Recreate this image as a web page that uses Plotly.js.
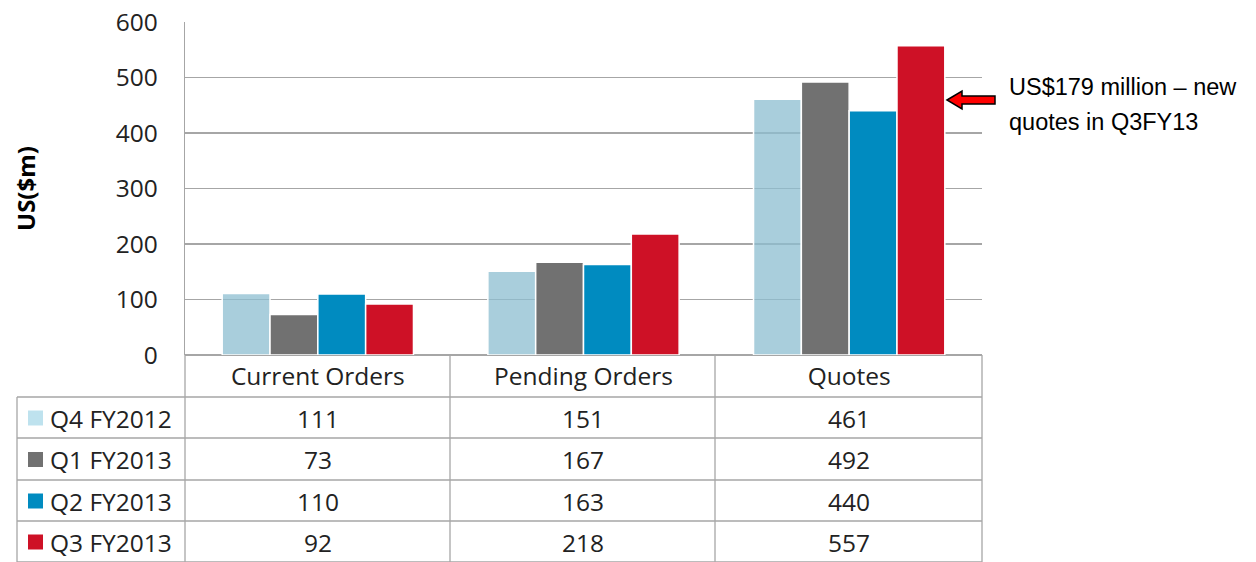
<!DOCTYPE html>
<html>
<head>
<meta charset="utf-8">
<script src="https://cdn.plot.ly/plotly-3.0.1.min.js"></script>
<style>html,body{margin:0;padding:0;background:#fff;}#chart{width:1256px;height:562px;}</style>
</head>
<body>
<div id="chart"></div>
<script>
// ---- data ----
const categories = ["Current Orders", "Pending Orders", "Quotes"];
const seriesNames = ["Q4 FY2012", "Q1 FY2013", "Q2 FY2013", "Q3 FY2013"];
const q4fy2012 = [111, 151, 461];
const q1fy2013 = [73, 167, 492];
const q2fy2013 = [110, 163, 440];
const q3fy2013 = [92, 218, 557];
const yTicks = [0, 100, 200, 300, 400, 500, 600];
const calloutLines = ["US$179 million \u2013 new", "quotes in Q3FY13"];

// ---- styles ----
const barColors = ["rgba(140,190,208,0.75)", "#717171", "#008BC0", "#CE1126"];
const swatchColors = ["#BEE2EE", "#717171", "#008BC0", "#CE1126"];
const W = 1256, H = 562;
const L = 185, R = 982, T = 22, B = 355;
const px = x => (x - L) / (R - L);
const py = y => (B - y) / (B - T);
const gridCol = "#A6A6A6";
const tableFont = {family: "Open Sans, sans-serif", size: 24.5, color: "#222"};

const allSeries = [q4fy2012, q1fy2013, q2fy2013, q3fy2013];
const traces = allSeries.map((vals, i) => ({
  type: "bar",
  name: seriesNames[i],
  x: categories,
  y: vals,
  marker: {color: barColors[i], line: {color: "#ffffff", width: 1.5}},
  hoverinfo: "x+y+name"
}));

const shapes = [];
const annotations = [];
const line = (x0, y0, x1, y1) => shapes.push({type: "line", xref: "paper", yref: "paper",
  x0: px(x0), y0: py(y0), x1: px(x1), y1: py(y1), line: {color: gridCol, width: 1.3}});

// table grid
const colEdges = [185, 450, 715, 982];
const rowEdges = [355, 397, 438, 480, 521, 562];
colEdges.forEach(c => line(c, 355, c, 562));
line(17, 397, 17, 562);
rowEdges.slice(1).forEach(r => line(17, r, 982, r));

// table rows: legend swatches, names, values
for (let i = 0; i < seriesNames.length; i++) {
  const yc = (rowEdges[i + 1] + rowEdges[i + 2]) / 2;
  shapes.push({type: "rect", xref: "paper", yref: "paper",
    x0: px(28), x1: px(43), y0: py(yc - 7), y1: py(yc + 8),
    fillcolor: swatchColors[i], line: {width: 0}});
  annotations.push({xref: "paper", yref: "paper", x: px(48), y: py(yc + 1),
    text: seriesNames[i], showarrow: false, xanchor: "left", yanchor: "middle", font: tableFont});
  for (let j = 0; j < categories.length; j++) {
    annotations.push({xref: "paper", yref: "paper",
      x: px((colEdges[j] + colEdges[j + 1]) / 2), y: py(yc + 1),
      text: String(allSeries[i][j]), showarrow: false, xanchor: "center", yanchor: "middle", font: tableFont});
  }
}

// callout arrow (block arrow)
const ax = [947, 962, 962, 995, 995, 962, 962];
const ay = [100, 91, 96, 96, 104, 104, 109];
let path = "";
ax.forEach((x, k) => { path += (k === 0 ? "M" : "L") + px(x) + "," + py(ay[k]) + " "; });
path += "Z";
shapes.push({type: "path", xref: "paper", yref: "paper", path: path,
  fillcolor: "#FF0000", line: {color: "#000", width: 1.5}});
const calloutFont = {family: "Liberation Sans, Arial, sans-serif", size: 23.5, color: "#000"};
annotations.push({xref: "paper", yref: "paper", x: px(1007), y: py(87),
  text: calloutLines[0], showarrow: false, xanchor: "left", yanchor: "middle", font: calloutFont});
annotations.push({xref: "paper", yref: "paper", x: px(1007), y: py(122),
  text: calloutLines[1], showarrow: false, xanchor: "left", yanchor: "middle", font: calloutFont});

// y title
annotations.push({xref: "paper", yref: "paper", x: px(25), y: py(189), textangle: -90,
  text: "<b>US($m)</b>", showarrow: false, xanchor: "center", yanchor: "middle",
  font: {family: "Open Sans, sans-serif", size: 24, color: "#000"}});

const layout = {
  width: W, height: H,
  margin: {l: L, r: W - R, t: T, b: H - B, pad: 0},
  paper_bgcolor: "#fff", plot_bgcolor: "#fff",
  showlegend: false,
  barmode: "group", bargap: 0.28, bargroupgap: 0,
  xaxis: {
    type: "category", showgrid: false, zeroline: false, showline: false,
    ticks: "", ticklabelstandoff: 4,
    tickfont: tableFont, fixedrange: true
  },
  yaxis: {
    range: [0, 600], tickvals: yTicks, ticktext: yTicks.map(String),
    showgrid: true, gridcolor: gridCol, gridwidth: 1.3,
    zeroline: true, zerolinecolor: gridCol, zerolinewidth: 1.3,
    showline: true, linecolor: gridCol, linewidth: 1.3,
    ticks: "", ticklabelstandoff: 21,
    tickfont: {family: "Open Sans, sans-serif", size: 24.5, color: "#222"},
    fixedrange: true
  },
  shapes: shapes,
  annotations: annotations
};

Plotly.newPlot("chart", traces, layout, {displayModeBar: false, staticPlot: true});
</script>
</body>
</html>
